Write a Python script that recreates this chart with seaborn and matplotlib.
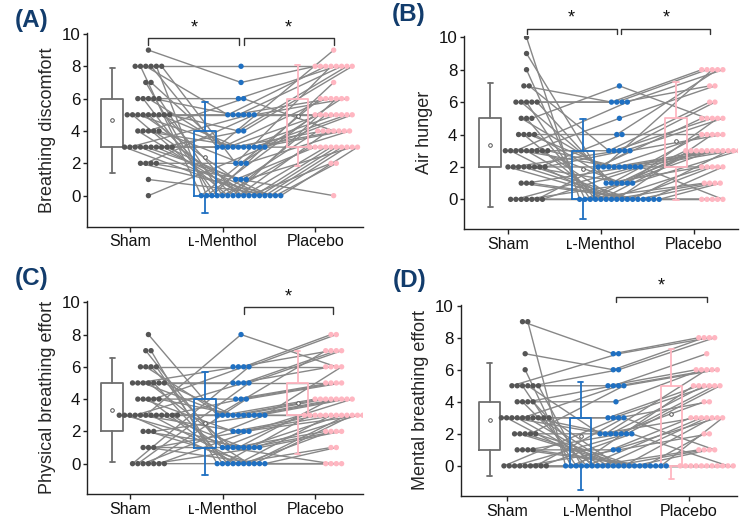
import numpy as np
import pandas as pd
import matplotlib
matplotlib.use("Agg")
import matplotlib.pyplot as plt
import seaborn as sns

conditions = ["Sham", "L-Menthol", "Placebo"]
tick_labels = ["Sham", "\u029f-Menthol", "Placebo"]
panel_letters = ["(A)", "(B)", "(C)", "(D)"]
y_titles = ["Breathing discomfort", "Air hunger",
            "Physical breathing effort", "Mental breathing effort"]

# Panel A: breathing discomfort (paired per subject)
a_sham = [9, 8, 8, 8, 8, 8, 8, 7, 7, 6, 6, 6, 6, 6, 5, 5, 5, 5, 5, 5, 5, 5, 5,
          4, 4, 4, 4, 4, 3, 3, 3, 3, 3, 3, 3, 3, 3, 3, 2, 2, 2, 2, 1, 0]
a_menthol = [7, 8, 0, 5, 3, 0, 2, 0, 3, 6, 0, 3, 5, 0, 5, 0, 3, 1, 0, 5, 3, 0, 4,
             0, 3, 6, 0, 2, 0, 5, 3, 0, 1, 3, 0, 4, 0, 3, 0, 5, 1, 2, 0, 3]
a_placebo = [8, 8, 6, 8, 9, 5, 8, 7, 6, 8, 4, 5, 6, 3, 8, 5, 4, 3, 6, 5, 3, 4, 8,
             3, 5, 4, 2, 6, 3, 5, 4, 3, 0, 5, 3, 8, 3, 4, 2, 6, 3, 4, 3, 5]

# Panel B: air hunger
b_sham = [10, 9, 8, 7, 7, 6, 6, 6, 6, 6, 5, 5, 5, 4, 4, 4, 4, 3, 3, 3, 3, 3, 3,
          3, 3, 3, 2, 2, 2, 2, 2, 2, 2, 1, 1, 1, 2, 0, 0, 0, 0, 0, 0, 0]
b_menthol = [0, 1, 0, 6, 3, 6, 2, 0, 6, 1, 2, 0, 7, 4, 0, 2, 1, 3, 0, 6, 2, 0, 5,
             1, 0, 2, 0, 3, 2, 0, 1, 0, 4, 0, 2, 0, 3, 0, 2, 0, 1, 0, 3, 2]
b_placebo = [1, 2, 3, 8, 6, 8, 5, 3, 7, 4, 8, 0, 5, 8, 3, 4, 3, 5, 2, 8, 3, 1, 7,
             3, 4, 3, 0, 6, 3, 2, 5, 3, 4, 1, 2, 0, 5, 2, 3, 0, 3, 1, 4, 0]

# Panel C: physical breathing effort
c_sham = [8, 7, 7, 6, 6, 6, 6, 5, 5, 5, 5, 5, 5, 5, 4, 4, 4, 4, 4, 3, 3, 3, 3,
          3, 3, 3, 3, 3, 3, 3, 3, 2, 2, 2, 1, 1, 1, 0, 0, 0, 0, 0, 0, 0]
c_menthol = [3, 1, 0, 6, 3, 1, 0, 5, 6, 3, 1, 0, 5, 3, 4, 2, 0, 6, 3, 3, 1, 0, 5,
             2, 8, 0, 3, 1, 4, 0, 3, 1, 0, 3, 1, 0, 2, 6, 5, 3, 4, 1, 2, 0]
c_placebo = [7, 3, 0, 6, 4, 0, 3, 5, 7, 3, 2, 0, 6, 4, 5, 3, 1, 8, 4, 3, 4, 3, 7,
             3, 6, 2, 4, 3, 5, 3, 4, 2, 3, 4, 3, 0, 3, 8, 7, 6, 5, 2, 4, 1]

# Panel D: mental breathing effort
d_sham = [9, 9, 7, 6, 5, 5, 5, 5, 5, 5, 4, 4, 4, 4, 3, 3, 3, 3, 3, 3, 3, 3, 3,
          3, 2, 2, 2, 2, 2, 1, 1, 1, 1, 0, 0, 0, 0, 0, 0, 0, 0, 0]
d_menthol = [7, 0, 6, 0, 7, 5, 0, 2, 6, 0, 4, 0, 5, 0, 3, 0, 2, 0, 5, 0, 2, 0, 3,
             0, 2, 0, 0, 5, 0, 1, 0, 2, 0, 3, 0, 2, 0, 1, 0, 3, 2, 0]
d_placebo = [8, 0, 8, 3, 8, 6, 5, 3, 8, 0, 6, 3, 7, 1, 5, 0, 6, 3, 6, 0, 5, 1, 5,
             0, 4, 3, 0, 6, 1, 3, 0, 5, 2, 4, 0, 5, 0, 2, 3, 1, 0, 0]

panels = [
    (a_sham, a_menthol, a_placebo),
    (b_sham, b_menthol, b_placebo),
    (c_sham, c_menthol, c_placebo),
    (d_sham, d_menthol, d_placebo),
]

dot_colors = {"Sham": "#555555", "L-Menthol": "#1f70c2", "Placebo": "#ffb6c1"}
box_colors = {"Sham": "#6e6e6e", "L-Menthol": "#1f70c2", "Placebo": "#ffb6c1"}

# layout (pixels: left, top, right, bottom), limits, brackets
W, H = 740, 518
layout = [
    dict(px=(87.3, 33.3, 363.3, 226.7), xlim=(-0.46, 2.52), ylim=(-1.92, 10.04),
         brackets=[(0.2, 1.18, 9.72, 9.33), (1.23, 2.2, 9.72, 9.33)], label_xy=(15, 21)),
    dict(px=(464.3, 36.0, 738.3, 229.0), xlim=(-0.47, 2.48), ylim=(-1.83, 10.08),
         brackets=[(0.2, 1.17, 10.52, 10.18), (1.22, 2.18, 10.52, 10.18)], label_xy=(392, 15)),
    dict(px=(87.3, 301.3, 363.3, 494.0), xlim=(-0.46, 2.52), ylim=(-1.88, 10.06),
         brackets=[(1.23, 2.19, 9.7, 9.3)], label_xy=(15, 278)),
    dict(px=(460.7, 304.7, 736.7, 496.0), xlim=(-0.51, 2.53), ylim=(-1.88, 10.06),
         brackets=[(1.2, 2.2, 10.55, 10.2)], label_xy=(393, 280)),
]

sns.set_theme(style="ticks")
plt.rcParams["font.family"] = ["Liberation Sans", "DejaVu Sans"]

fig = plt.figure(figsize=(W / 100, H / 100), dpi=100)

dot_offset = 0.2
box_offset = -0.19
box_width = 0.235
dot_step_px = 5.3

for p, (vals, lay) in enumerate(zip(panels, layout)):
    l, t, r, b = lay["px"]
    ax = fig.add_axes([l / W, 1 - b / H, (r - l) / W, (b - t) / H])
    px_per_unit = (r - l) / (lay["xlim"][1] - lay["xlim"][0])
    step = dot_step_px / px_per_unit

    rows = []
    for ci, (cond, v) in enumerate(zip(conditions, vals)):
        v = np.asarray(v)
        for level in np.unique(v):
            idx = np.where(v == level)[0]
            k = len(idx)
            for j, s in enumerate(idx):
                rows.append(dict(subject=s, cond_i=ci, condition=cond, value=level,
                                 xpos=ci + dot_offset + (j - (k - 1) / 2) * step))
    df = pd.DataFrame(rows).sort_values(["subject", "cond_i"]).reset_index(drop=True)

    sns.lineplot(data=df, x="xpos", y="value", units="subject", estimator=None,
                 sort=False, color="#878787", linewidth=1.0, legend=False, ax=ax,
                 zorder=2)

    # box (IQR) with mean +/- 1.5 SD whiskers
    for ci, (cond, v) in enumerate(zip(conditions, vals)):
        v = np.asarray(v, dtype=float)
        m = v.mean()
        sd = v.std(ddof=1)
        q1, q3 = np.percentile(v, [25, 75], method="nearest")
        st = [dict(med=np.median(v), q1=q1, q3=q3, mean=m,
                   whislo=m - 1.5 * sd, whishi=m + 1.5 * sd, fliers=[])]
        c = box_colors[cond]
        ax.bxp(st, positions=[ci + box_offset], widths=box_width, capwidths=0.06,
               showmeans=True, showfliers=False, manage_ticks=False,
               boxprops=dict(color=c, linewidth=1.3),
               whiskerprops=dict(color=c, linewidth=1.3),
               capprops=dict(color=c, linewidth=1.3),
               medianprops=dict(linewidth=0),
               meanprops=dict(marker="o", markersize=2.6, markerfacecolor="white",
                              markeredgecolor="#555555", markeredgewidth=0.7),
               zorder=2.5)

    sns.scatterplot(data=df, x="xpos", y="value", hue="condition",
                    palette=dot_colors, s=15, linewidth=0, legend=False, ax=ax,
                    zorder=3)

    ax.set_xlim(*lay["xlim"])
    ax.set_ylim(*lay["ylim"])
    ax.set_xticks([0, 1, 2])
    ax.set_xticklabels(tick_labels)
    ax.set_yticks([0, 2, 4, 6, 8, 10])
    ax.set_xlabel("")
    ax.set_ylabel(y_titles[p], fontsize=13, labelpad=4)
    ax.tick_params(axis="x", labelsize=11.5, length=3.5, width=1, pad=2,
                   color="#222222", labelcolor="#111111")
    ax.tick_params(axis="y", labelsize=12.2, length=3, width=1, pad=2,
                   color="#222222", labelcolor="#111111")
    for sp in ["left", "bottom"]:
        ax.spines[sp].set_color("#222222")
        ax.spines[sp].set_linewidth(1.0)
    sns.despine(ax=ax)

    for (x0, x1, yb, yt) in lay["brackets"]:
        ax.plot([x0, x0, x1, x1], [yt, yb, yb, yt], color="#333333",
                linewidth=1.0, clip_on=False, zorder=4)
        ax.text((x0 + x1) / 2, yb + 0.12, "*", ha="center", va="bottom",
                fontsize=13, color="#111111", clip_on=False)

    lx, ly = lay["label_xy"]
    fig.text(lx / W, 1 - ly / H, panel_letters[p], fontsize=17.5,
             fontweight="bold", color="#123c6c", ha="left", va="center")

fig.savefig("out.png", dpi=100)
